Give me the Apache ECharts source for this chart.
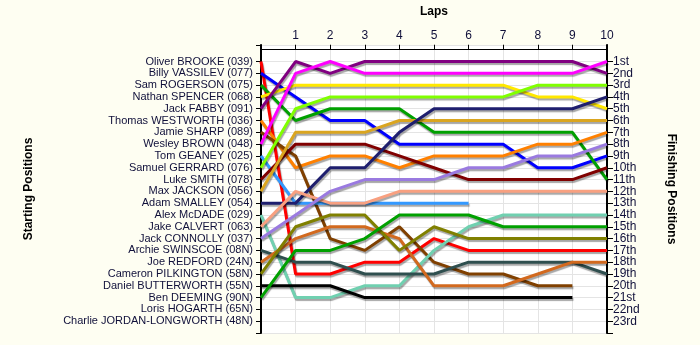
<!DOCTYPE html>
<html>
<head>
<meta charset="utf-8">
<script src="https://cdn.jsdelivr.net/npm/echarts@6/dist/echarts.min.js"></script>
<style>
html,body{margin:0;padding:0;background:#FEFEF2;}
#c{width:700px;height:345px;}
</style>
</head>
<body>
<div id="c"></div>
<script>
// Starting grid order (position 1..23)
const startNames = [
  "Oliver BROOKE (039)", "Billy VASSILEV (077)", "Sam ROGERSON (075)", "Nathan SPENCER (068)",
  "Jack FABBY (091)", "Thomas WESTWORTH (036)", "Jamie SHARP (089)", "Wesley BROWN (048)",
  "Tom GEANEY (025)", "Samuel GERRARD (076)", "Luke SMITH (078)", "Max JACKSON (056)",
  "Adam SMALLEY (054)", "Alex McDADE (029)", "Jake CALVERT (063)", "Jack CONNOLLY (037)",
  "Archie SWINSCOE (08N)", "Joe REDFORD (24N)", "Cameron PILKINGTON (58N)", "Daniel BUTTERWORTH (55N)",
  "Ben DEEMING (90N)", "Loris HOGARTH (65N)", "Charlie JORDAN-LONGWORTH (48N)"
];
const finishLabels = ["1st","2nd","3rd","4th","5th","6th","7th","8th","9th","10th","11th","12th",
  "13th","14th","15th","16th","17th","18th","19th","20th","21st","22nd","23rd"];
const lapLabels = ["", "1", "2", "3", "4", "5", "6", "7", "8", "9", "10"];

// Position at lap 0 (start) .. lap N
const posBrooke      = [1, 19, 19, 18, 18, 16, 17, 17, 17, 17, 17];
const posVassilev    = [2, 4, 6, 6, 8, 8, 8, 8, 10, 10, 9];
const posRogerson    = [3, 6, 5, 5, 5, 7, 7, 7, 7, 7, 11];
const posSpencer     = [4, 3, 3, 3, 3, 3, 3, 3, 4, 4, 5];
const posFabby       = [5, 1, 2, 1, 1, 1, 1, 1, 1, 1, 2];
const posWestworth   = [6, 10, 9, 9, 10, 9, 9, 9, 8, 8, 7];
const posSharp       = [7, 9, 16, 17, 15, 18, 19, 19, 20, 20];
const posBrown       = [8, 2, 1, 2, 2, 2, 2, 2, 2, 2, 1];
const posGeaney      = [9, 13, 13, 13, 13, 13, 13];
const posGerrard     = [10, 5, 4, 4, 4, 4, 4, 4, 3, 3, 3];
const posSmith       = [11, 8, 8, 8, 9, 10, 11, 11, 11, 11, 10];
const posJackson     = [12, 7, 7, 7, 6, 6, 6, 6, 6, 6, 6];
const posSmalley     = [13, 13, 10, 10, 7, 5, 5, 5, 5, 5, 4];
const posMcdade      = [14, 21, 21, 20, 20, 17, 15, 14, 14, 14, 14];
const posCalvert     = [15, 12, 13, 13, 12, 12, 12, 12, 12, 12, 12];
const posConnolly    = [16, 14, 12, 11, 11, 11, 10, 10, 9, 9, 8];
const posSwinscoe    = [17, 18, 18, 19, 19, 19, 18, 18, 18, 18, 19];
const posRedford     = [18, 16, 15, 15, 16, 20, 20, 20, 19, 18, 18];
const posPilkington  = [19, 15, 14, 14, 17, 15, 16, 16, 16, 16, 16];
const posButterworth = [20, 20, 20, 21, 21, 21, 21, 21, 21, 21];
const posDeeming     = [21, 17, 17, 16, 14, 14, 14, 15, 15, 15, 15];
const posHogarth     = [];
const posJordan      = [];

const positions = [posBrooke, posVassilev, posRogerson, posSpencer, posFabby, posWestworth,
  posSharp, posBrown, posGeaney, posGerrard, posSmith, posJackson, posSmalley, posMcdade,
  posCalvert, posConnolly, posSwinscoe, posRedford, posPilkington, posButterworth, posDeeming,
  posHogarth, posJordan];

const colors = ["#FF0000", "#0000FF", "#00A000", "#FFE800", "#800080", "#FF8000",
  "#804000", "#FF00FF", "#3399FF", "#80FF00", "#800000", "#DAA520", "#1E1E6E", "#70D0B0",
  "#F8A080", "#9A7AE0", "#2F4F4F", "#D2691E", "#808000", "#000000", "#00A000", "#888888", "#888888"];

const txt = "#10103A";
const font = "Liberation Sans, Arial, sans-serif";
const axisMin = -0.4;
const rowTicks = [];
for (let i = 1; i <= startNames.length + 1; i++) rowTicks.push(i);
const leftTicks = [axisMin].concat(rowTicks);
const labelVals = rowTicks.slice(0, startNames.length);

const series = positions.map((p, i) => ({
  name: startNames[i],
  type: 'line',
  symbol: 'none',
  z: 3,
  data: p.map((v, lap) => [lap, v]),
  lineStyle: {
    width: 3, color: colors[i],
    shadowColor: 'rgba(0,0,0,0.35)', shadowBlur: 1, shadowOffsetX: 1, shadowOffsetY: 2
  },
  emphasis: { disabled: true }
}));

const chart = echarts.init(document.getElementById('c'), null, { renderer: 'canvas' });
chart.setOption({
  backgroundColor: '#FEFEF2',
  animation: false,
  grid: {
    left: 261, right: 93, top: 45, bottom: 12,
    show: true, backgroundColor: '#FFFFFF', borderWidth: 0
  },
  xAxis: {
    type: 'value', position: 'top', min: 0, max: 10, interval: 1,
    name: 'Laps', nameLocation: 'middle', nameGap: 27,
    nameTextStyle: { fontFamily: font, fontSize: 12, fontWeight: 'bold', color: '#000' },
    axisLine: { show: true, lineStyle: { color: '#000', width: 1 } },
    axisTick: { show: true, inside: false, length: 5, lineStyle: { color: '#000' } },
    axisLabel: {
      fontFamily: font, fontSize: 12, color: txt, margin: 3,
      formatter: v => lapLabels[v] || ''
    },
    splitLine: { show: true, lineStyle: { color: '#E4E4E4', width: 1 } }
  },
  yAxis: [{
    type: 'value', inverse: true, min: axisMin, max: 24, position: 'left',
    name: 'Starting Positions', nameLocation: 'middle', nameGap: 226, nameRotate: 90,
    nameTextStyle: { fontFamily: font, fontSize: 12, fontWeight: 'bold', color: '#000' },
    axisLine: { show: true, lineStyle: { color: '#000', width: 2 } },
    axisTick: { show: true, length: 5, customValues: leftTicks, lineStyle: { color: '#000' } },
    axisLabel: {
      fontFamily: font, fontSize: 11, color: txt, margin: 8,
      customValues: labelVals,
      formatter: v => startNames[v - 1] || ''
    },
    splitLine: { show: true, lineStyle: { color: '#E4E4E4', width: 1 } }
  }, {
    type: 'value', inverse: true, min: axisMin, max: 24, position: 'right',
    name: 'Finishing Positions', nameLocation: 'middle', nameGap: 58, nameRotate: -90,
    nameTextStyle: { fontFamily: font, fontSize: 12, fontWeight: 'bold', color: '#000' },
    axisLine: { show: true, lineStyle: { color: '#000', width: 2 } },
    axisTick: { show: true, length: 6, customValues: rowTicks, lineStyle: { color: '#000' } },
    axisLabel: {
      fontFamily: font, fontSize: 12, color: txt, margin: 6,
      customValues: labelVals,
      formatter: v => finishLabels[v - 1] || ''
    },
    splitLine: { show: false }
  }],
  series: series
});
</script>
</body>
</html>
